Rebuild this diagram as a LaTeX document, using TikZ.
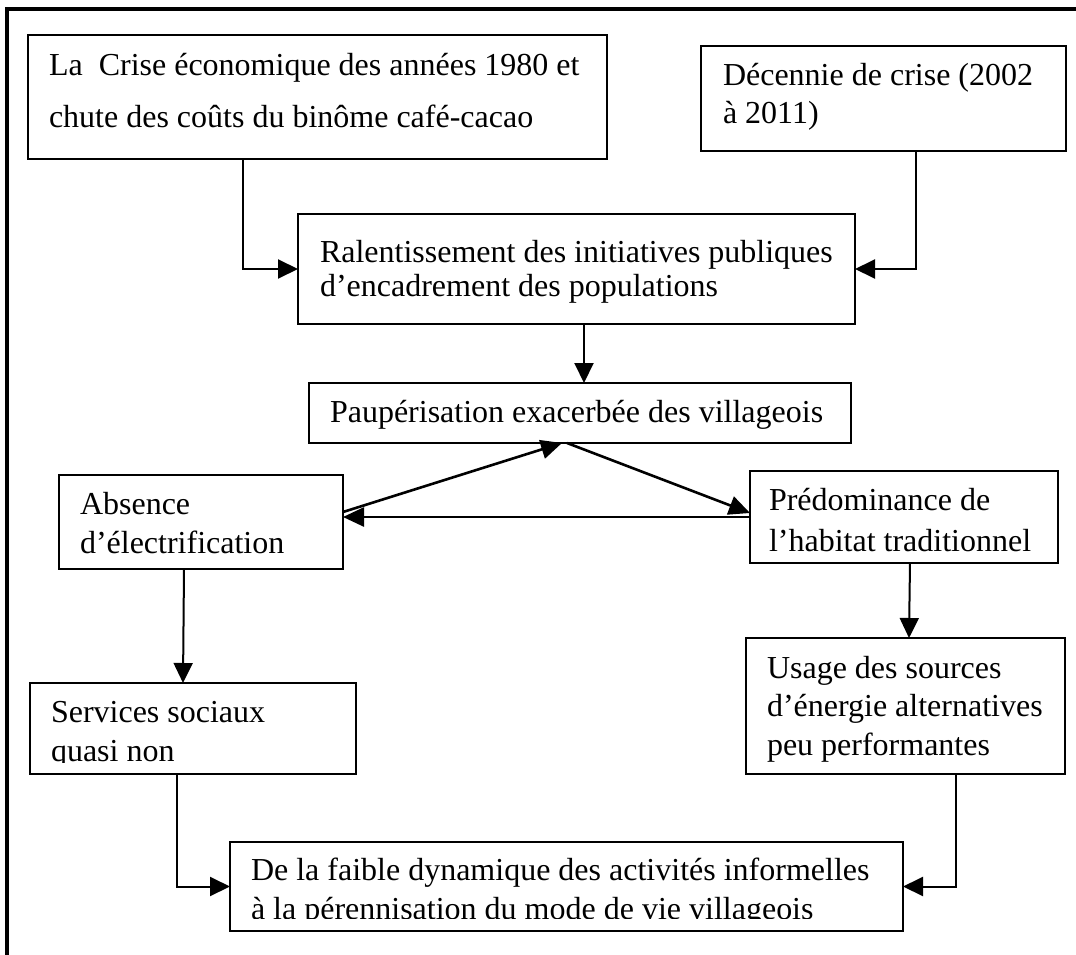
\documentclass[tikz,border=0pt]{standalone}
\usepackage{fontspec}
\setmainfont{Liberation Serif}
\usetikzlibrary{arrows.meta,calc}
\begin{document}
\begin{tikzpicture}[x=1pt,y=-1pt,
  box/.style={draw, line width=2pt, inner sep=0pt, outer sep=0pt, anchor=north west},
  txt/.style={anchor=base west, inner sep=0pt, outer sep=0pt, font=\fontsize{32}{38}\selectfont},
  arr/.style={line width=2pt, -{Triangle[length=20pt,width=19pt]}},
  darr/.style={line width=2.6pt, -{Triangle[length=21pt,width=19pt]}}]
\useasboundingbox (0,0) rectangle (1076,955);
% outer frame
\draw[line width=4pt] (7.3,962) -- (7.3,9) -- (1082,9);

% boxes
\node[box, minimum width=579.3pt, minimum height=124pt] (crise)  at (27.7,35) {};
\node[box, minimum width=365pt,   minimum height=105pt] (dec)    at (701,46)  {};
\node[box, minimum width=557pt,   minimum height=110pt] (ralent) at (298,214) {};
\node[box, minimum width=542pt,   minimum height=60pt]  (paup)   at (309,383) {};
\node[box, minimum width=284pt,   minimum height=94pt]  (abs)    at (59,475)  {};
\node[box, minimum width=308pt,   minimum height=92pt]  (pred)   at (750,471) {};
\node[box, minimum width=326pt,   minimum height=91pt]  (serv)   at (30,683)  {};
\node[box, minimum width=319pt,   minimum height=136pt] (usage)  at (746,638) {};
\node[box, minimum width=673pt,   minimum height=89pt]  (faible) at (230,842) {};

% texts
\node[txt] (crise1) at (49,76)  {La\ \ Crise économique des années 1980 et};
\node[txt] (crise2) at (49,128) {chute des coûts du binôme café-cacao};
\node[txt] (dec1) at (723,86)  {Décennie de crise (2002};
\node[txt] (dec2) at (723,124) {à 2011)};
\node[txt] (ralent1) at (320,262) {Ralentissement des initiatives publiques};
\node[txt] (ralent2) at (320,296) {d’encadrement des populations};
\node[txt] (paup1) at (330,422) {Paupérisation exacerbée des villageois};
\node[txt] (abs1) at (80,514) {Absence};
\node[txt] (abs2) at (80,553) {d’électrification};
\node[txt] (pred1) at (769,510) {Prédominance de};
\node[txt] (pred2) at (769,551) {l’habitat traditionnel};
\node[txt] (serv1) at (51,722) {Services sociaux};
\begin{scope}
  \clip (30,683) rectangle (356,762);
  \node[txt] (serv2) at (51,761) {quasi non};
\end{scope}
\node[txt] (usage1) at (767,678) {Usage des sources};
\node[txt] (usage2) at (767,716) {d’énergie alternatives};
\node[txt] (usage3) at (767,755) {peu performantes};
\node[txt] (faible1) at (251,880) {De la faible dynamique des activités informelles};
\begin{scope}
  \clip (230,842) rectangle (903,918.5);
  \node[txt] (faible2) at (251,919) {à la pérennisation du mode de vie villageois};
\end{scope}

% connectors
\draw[arr] ([xshift=215pt]crise.south west) |- (ralent.west);
\draw[arr] ([xshift=215pt]dec.south west) |- (ralent.east);
\draw[arr] ([xshift=7.5pt]ralent.south) -- ([xshift=7.5pt]ralent.south |- paup.north);
\draw[darr] ([yshift=10pt]abs.east) -- ([xshift=-18pt]paup.south);
\draw[darr] ([xshift=-13pt]paup.south) -- ([yshift=4pt]pred.west);
\draw[darr] (pred.west) -- (pred.west -| abs.east);
\draw[arr] ([xshift=-17pt]abs.south) -- ([xshift=-10pt]serv.north);
\draw[arr] ([xshift=6pt]pred.south) -- ([xshift=3.5pt]usage.north);
\draw[arr] ([xshift=-16pt]serv.south) |- (faible.west);
\draw[arr] ([xshift=50.5pt]usage.south) |- (faible.east);
\end{tikzpicture}
\end{document}
